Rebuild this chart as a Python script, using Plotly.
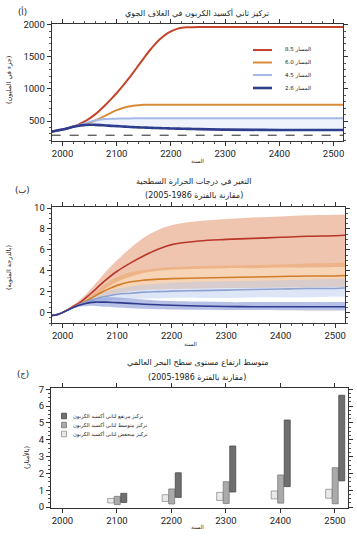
import numpy as np
import plotly.graph_objects as go

# ---------------- data ----------------
# Panel (a): CO2 concentration (ppm)
co2_years = [1980, 1990, 2000, 2010, 2020, 2030, 2040, 2050, 2060, 2070, 2080, 2090, 2100,
             2110, 2120, 2130, 2140, 2150, 2160, 2170, 2180, 2190, 2200, 2210, 2220, 2230,
             2240, 2250, 2300, 2400, 2500, 2520]
co2_rcp85 = [338, 354, 369, 390, 415, 449, 490, 541, 604, 677, 758, 845, 936,
             1035, 1140, 1250, 1365, 1480, 1590, 1690, 1775, 1845, 1895, 1930, 1950, 1958,
             1961, 1962, 1962, 1962, 1962, 1962]
co2_rcp60 = [338, 354, 369, 389, 410, 430, 452, 478, 508, 545, 587, 632, 670,
             700, 723, 739, 748, 752, 752, 752, 752, 752, 752, 752, 752, 752,
             752, 752, 752, 752, 752, 752]
co2_rcp45 = [338, 354, 369, 389, 411, 435, 460, 487, 509, 524, 532, 536, 538,
             540, 541, 542, 543, 543, 543, 543, 543, 543, 543, 543, 543, 543,
             543, 543, 543, 543, 543, 543]
co2_rcp26 = [338, 354, 369, 389, 412, 428, 437, 443, 441, 437, 432, 426, 421,
             416, 411, 406, 402, 399, 396, 393, 390, 388, 385, 383, 381, 379,
             377, 375, 367, 362, 360, 360]
co2_preindustrial = 280

# Panel (b): surface temperature change (deg C)
t_years = [1980, 1990, 2000, 2010, 2020, 2030, 2040, 2050, 2060, 2070, 2080, 2100,
           2125, 2150, 2175, 2200, 2250, 2300, 2350, 2400, 2450, 2500, 2520]
t85_mid = [-0.28, -0.2, 0.0, 0.3, 0.6, 0.9, 1.3, 1.75, 2.2, 2.7, 3.15, 3.95,
           4.75, 5.45, 6.05, 6.5, 6.85, 7.0, 7.1, 7.2, 7.3, 7.35, 7.4]
t85_hi = [-0.28, -0.2, 0.0, 0.35, 0.75, 1.15, 1.6, 2.15, 2.75, 3.35, 3.95, 5.0,
          6.2, 7.2, 7.9, 8.35, 8.75, 8.95, 9.1, 9.2, 9.3, 9.35, 9.4]
t85_lo = [-0.28, -0.2, 0.0, 0.25, 0.5, 0.7, 0.95, 1.3, 1.65, 2.0, 2.35, 2.95,
          3.45, 3.8, 4.0, 4.1, 4.2, 4.25, 4.25, 4.3, 4.3, 4.35, 4.4]
t60_mid = [-0.28, -0.2, 0.0, 0.25, 0.5, 0.75, 1.0, 1.3, 1.6, 1.9, 2.15, 2.6,
           2.95, 3.1, 3.2, 3.25, 3.3, 3.35, 3.4, 3.45, 3.5, 3.5, 3.55]
t60_hi = [-0.28, -0.2, 0.0, 0.3, 0.6, 0.9, 1.25, 1.6, 2.0, 2.4, 2.75, 3.4,
          3.85, 4.1, 4.25, 4.35, 4.45, 4.5, 4.55, 4.6, 4.7, 4.75, 4.8]
t60_lo = [-0.28, -0.2, 0.0, 0.2, 0.4, 0.6, 0.8, 1.0, 1.2, 1.4, 1.55, 1.85,
          2.05, 2.15, 2.2, 2.25, 2.3, 2.35, 2.35, 2.4, 2.4, 2.45, 2.45]
t45_mid = [-0.28, -0.2, 0.0, 0.25, 0.5, 0.75, 0.95, 1.15, 1.3, 1.45, 1.55, 1.75,
           1.85, 1.95, 2.0, 2.05, 2.1, 2.15, 2.2, 2.25, 2.3, 2.3, 2.35]
t45_hi = [-0.28, -0.2, 0.0, 0.3, 0.6, 0.9, 1.15, 1.4, 1.65, 1.85, 2.0, 2.3,
          2.5, 2.65, 2.75, 2.85, 2.95, 3.0, 3.05, 3.1, 3.15, 3.2, 3.2]
t45_lo = [-0.28, -0.2, 0.0, 0.2, 0.4, 0.6, 0.75, 0.9, 1.0, 1.1, 1.15, 1.25,
          1.3, 1.35, 1.35, 1.4, 1.4, 1.4, 1.45, 1.45, 1.45, 1.5, 1.5]
t26_mid = [-0.28, -0.2, 0.0, 0.25, 0.5, 0.7, 0.85, 0.95, 1.0, 1.0, 1.0, 0.95,
           0.88, 0.8, 0.74, 0.7, 0.63, 0.58, 0.56, 0.55, 0.55, 0.55, 0.55]
t26_hi = [-0.28, -0.2, 0.0, 0.3, 0.6, 0.85, 1.1, 1.25, 1.35, 1.4, 1.45, 1.45,
          1.35, 1.25, 1.15, 1.1, 1.05, 1.0, 1.0, 1.0, 1.0, 1.0, 1.0]
t26_lo = [-0.28, -0.2, 0.0, 0.2, 0.4, 0.55, 0.6, 0.65, 0.62, 0.58, 0.55, 0.48,
          0.42, 0.36, 0.32, 0.3, 0.27, 0.25, 0.24, 0.22, 0.2, 0.2, 0.2]

# Panel (c): sea level rise ranges (m)
sl_years = [2100, 2200, 2300, 2400, 2500]
sl_low_lo = [0.25, 0.34, 0.40, 0.49, 0.53]
sl_low_hi = [0.52, 0.74, 0.88, 0.96, 1.06]
sl_med_lo = [0.15, 0.19, 0.22, 0.24, 0.20]
sl_med_hi = [0.64, 1.08, 1.51, 1.91, 2.34]
sl_high_lo = [0.28, 0.58, 0.90, 1.22, 1.56]
sl_high_hi = [0.82, 2.04, 3.63, 5.17, 6.64]

rcp_labels = ["المسار 8.5", "المسار 6.0", "المسار 4.5", "المسار 2.6"]
sl_labels = ["تركيز مرتفع لثاني أكسيد الكربون",
             "تركيز متوسط لثاني أكسيد الكربون",
             "تركيز منخفض لثاني أكسيد الكربون"]

# ---------------- styles ----------------
C85, C60, C45, C26 = "#c4452b", "#d98b3a", "#a3b9e6", "#2f3d8e"
B85, B60, B45, B26 = ("rgba(226,140,95,0.5)", "rgba(235,160,90,0.45)",
                      "rgba(175,195,235,0.42)", "rgba(95,115,200,0.45)")
AR = "DejaVu Sans"
NUM = "Roboto"

fig = go.Figure()

# Panel a
fig.add_trace(go.Scatter(x=co2_years, y=[co2_preindustrial] * len(co2_years), mode="lines",
                         line=dict(color="#222222", width=1, dash="dash"),
                         xaxis="x", yaxis="y", showlegend=False, hoverinfo="skip"))
fig.add_trace(go.Scatter(x=co2_years, y=co2_rcp26, mode="lines", line=dict(width=0),
                         xaxis="x", yaxis="y", showlegend=False, hoverinfo="skip"))
fig.add_trace(go.Scatter(x=co2_years, y=co2_rcp45, mode="lines", line=dict(width=0),
                         fill="tonexty", fillcolor="rgba(205,220,245,0.35)",
                         xaxis="x", yaxis="y", showlegend=False, hoverinfo="skip"))
for vals, col, w in [(co2_rcp85, C85, 2), (co2_rcp60, C60, 2),
                     (co2_rcp45, C45, 2), (co2_rcp26, C26, 2.6)]:
    fig.add_trace(go.Scatter(x=co2_years, y=vals, mode="lines", line=dict(color=col, width=w, shape="spline"),
                             xaxis="x", yaxis="y", showlegend=False))

# Panel b bands
for lo, hi, fc in [(t85_lo, t85_hi, B85), (t60_lo, t60_hi, B60),
                   (t45_lo, t45_hi, B45), (t26_lo, t26_hi, B26)]:
    fig.add_trace(go.Scatter(x=t_years, y=lo, mode="lines", line=dict(width=0, shape="spline"),
                             xaxis="x2", yaxis="y2", showlegend=False, hoverinfo="skip"))
    fig.add_trace(go.Scatter(x=t_years, y=hi, mode="lines", line=dict(width=0, shape="spline"),
                             fill="tonexty", fillcolor=fc,
                             xaxis="x2", yaxis="y2", showlegend=False, hoverinfo="skip"))
for vals, col in [(t85_mid, "#b8362a"), (t60_mid, "#d07d2c"),
                  (t45_mid, "#8fa2cf"), (t26_mid, "#2f3b8c")]:
    fig.add_trace(go.Scatter(x=t_years, y=vals, mode="lines", line=dict(color=col, width=1.6, shape="spline"),
                             xaxis="x2", yaxis="y2", showlegend=False))

# Panel c bars
lo_arr = [np.array(sl_low_lo), np.array(sl_med_lo), np.array(sl_high_lo)]
hi_arr = [np.array(sl_low_hi), np.array(sl_med_hi), np.array(sl_high_hi)]
bar_style = [("#e9e9e9", "#8f8f8f", -17, 12), ("#aaaaaa", "#7a7a7a", -5, 11), ("#6f6f6f", "#4a4a4a", 7, 11)]
for lo, hi, (fc, lc, off, wd) in zip(lo_arr, hi_arr, bar_style):
    fig.add_trace(go.Bar(x=sl_years, y=hi - lo, base=lo, offset=off, width=wd,
                         marker=dict(color=fc, line=dict(color=lc, width=0.8)),
                         xaxis="x3", yaxis="y3", showlegend=False))

# ---------------- axes ----------------
W, H = 357, 536
def xd(a, b):
    return [a / W, b / W]
def yd(top, bot):
    return [(H - bot) / H, (H - top) / H]

A_X = (51.7, 343.3); A_Y = (24, 141)
B_X = (51.7, 345.0); B_Y = (207, 323)
C_X = (51.0, 348.0); C_Y = (388, 508)

axcommon = dict(showline=True, linecolor="#333333", linewidth=1, mirror="ticks", showgrid=False,
                zeroline=False, ticks="outside", ticklen=4, tickcolor="#333333",
                tickfont=dict(family=NUM, size=9.5, color="#222222"))

fig.update_layout(
    xaxis=dict(domain=xd(*A_X), anchor="y", range=[1980, 2518], dtick=100, tick0=2000,
               minor=dict(dtick=20, ticks="outside", ticklen=2, tickcolor="#555555"), **axcommon),
    yaxis=dict(domain=yd(*A_Y), anchor="x", range=[190, 2010], tickvals=[500, 1000, 1500, 2000],
               minor=dict(dtick=100, ticks="outside", ticklen=2, tickcolor="#555555"), **axcommon),
    xaxis2=dict(domain=xd(*B_X), anchor="y2", range=[1980, 2518], dtick=100, tick0=2000,
                minor=dict(dtick=20, ticks="outside", ticklen=2, tickcolor="#555555"), **axcommon),
    yaxis2=dict(domain=yd(*B_Y), anchor="x2", range=[-1, 10.1], tickvals=[0, 2, 4, 6, 8, 10],
                minor=dict(dtick=0.5, ticks="outside", ticklen=2, tickcolor="#555555"), **axcommon),
    xaxis3=dict(domain=xd(*C_X), anchor="y3", range=[1979, 2524], dtick=100, tick0=2000, **axcommon),
    yaxis3=dict(domain=yd(*C_Y), anchor="x3", range=[-0.05, 7.07], dtick=1,
                minor=dict(dtick=0.25, ticks="outside", ticklen=2, tickcolor="#555555"), **axcommon),
    barmode="overlay",
    width=W, height=H,
    margin=dict(l=0, r=0, t=0, b=0, autoexpand=False),
    paper_bgcolor="white", plot_bgcolor="white",
    showlegend=False,
)

# ---------------- text ----------------
ann = []
def txt(x, y, s, size, angle=0, xanchor="center", font=AR, color="#222222"):
    ann.append(dict(x=x / W, y=(H - y) / H, xref="paper", yref="paper", text=s, showarrow=False,
                    xanchor=xanchor, yanchor="middle", textangle=angle,
                    font=dict(family=font, size=size, color=color)))

# titles
txt(197, 13, "تركيز ثاني أكسيد الكربون في الغلاف الجوي", 8)
txt(23, 12, "(أ)", 8.5)
txt(194, 181, "التغير في درجات الحرارة السطحية", 8)
txt(194, 195, "(مقارنة بالفترة 1986-2005)", 8)
txt(23, 190, "(ب)", 8.5)
txt(197, 362, "متوسط ارتفاع مستوى سطح البحر العالمي", 8)
txt(197, 377, "(مقارنة بالفترة 1986-2005)", 8)
txt(23, 374, "(ج)", 8.5)
# axis titles
txt(197, 161, "السنة", 5.5)
txt(190, 344, "السنة", 5.5)
txt(197, 527, "السنة", 5.5)
txt(9, 80, "(جزء في المليون)", 6.5, angle=-90)
txt(9, 268, "(بالدرجة المئوية)", 6.5, angle=-90)
txt(26, 458, "(بالأمتار)", 6.5, angle=-90)

# legend panel a (manual, compact)
shapes = []
leg_y = [50, 62.5, 75, 88]
for yy, lab, col, w in zip(leg_y, rcp_labels, [C85, C60, C45, C26], [2, 2, 2, 2.6]):
    shapes.append(dict(type="line", xref="paper", yref="paper", x0=253 / W, x1=272 / W,
                       y0=(H - yy) / H, y1=(H - yy) / H, line=dict(color=col, width=w)))
    txt(283, yy, lab, 5.5, xanchor="left")

# legend panel c
leg_c_y = [416, 425, 434]
for yy, lab, (fc, lc, _, _) in zip(leg_c_y, sl_labels, bar_style[::-1]):
    shapes.append(dict(type="rect", xref="paper", yref="paper", x0=61.5 / W, x1=66.5 / W,
                       y0=(H - yy - 2.8) / H, y1=(H - yy + 2.8) / H,
                       fillcolor=fc, line=dict(color=lc, width=0.8)))
    txt(71, yy, lab, 5.2, xanchor="left")

fig.update_layout(annotations=ann, shapes=shapes)
fig.write_html("out.html", config={"displayModeBar": False},
               post_script="document.body.style.margin='0px';")
